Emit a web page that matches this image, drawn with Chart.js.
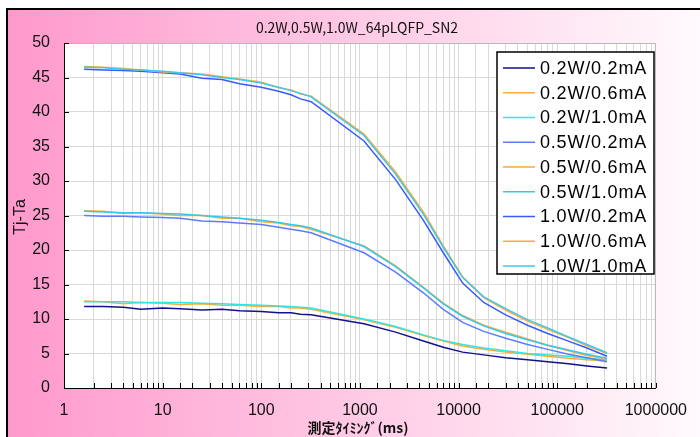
<!DOCTYPE html>
<html lang="ja">
<head>
    <meta charset="UTF-8">
    <title>0.2W,0.5W,1.0W_64pLQFP_SN2</title>
    <script src="https://cdn.jsdelivr.net/npm/chart.js"></script>
    <style>
        html, body { margin: 0; padding: 0; background: #fff; }
        #wrap { width: 700px; height: 437px; }
    </style>
</head>
<body>
    <div id="wrap"><canvas id="tjChart" width="700" height="437"></canvas></div>

    <script>
        // measurement timings (ms)
        const times = [1.6, 2.5, 4, 6, 10, 15, 25, 40, 60, 100, 150, 200, 250, 320,
            1100, 2300, 4400, 7000, 11000, 18000, 30000, 50000, 80000, 130000, 200000, 320000];

        const seriesNames = ['0.2W/0.2mA', '0.2W/0.6mA', '0.2W/1.0mA',
            '0.5W/0.2mA', '0.5W/0.6mA', '0.5W/1.0mA',
            '1.0W/0.2mA', '1.0W/0.6mA', '1.0W/1.0mA'];

        // Tj-Ta values
        const w02_02 = [11.8, 11.8, 11.7, 11.4, 11.6, 11.5, 11.3, 11.4, 11.2, 11.1, 10.9, 10.9, 10.7, 10.6,
            9.3, 8.1, 6.8, 5.9, 5.2, 4.8, 4.4, 4.1, 3.8, 3.5, 3.2, 2.9];
        const w02_06 = [12.6, 12.5, 12.2, 12.4, 12.3, 12.1, 12.2, 12.0, 12.0, 11.8, 11.8, 11.6, 11.6, 11.4,
            9.9, 8.8, 7.6, 6.8, 6.1, 5.6, 5.2, 4.9, 4.6, 4.3, 4.1, 3.9];
        const w02_10 = [12.5, 12.5, 12.5, 12.4, 12.4, 12.4, 12.3, 12.2, 12.1, 12.0, 11.9, 11.8, 11.7, 11.6,
            10.0, 8.9, 7.7, 6.9, 6.3, 5.8, 5.4, 5.0, 4.8, 4.6, 4.3, 4.1];
        const w05_02 = [25.0, 24.9, 24.9, 24.8, 24.7, 24.6, 24.2, 24.1, 23.9, 23.7, 23.3, 23.0, 22.8, 22.5,
            19.6, 16.8, 13.8, 11.4, 9.5, 8.2, 7.2, 6.3, 5.6, 4.9, 4.4, 3.8];
        const w05_06 = [25.7, 25.6, 25.3, 25.4, 25.2, 25.0, 25.0, 24.6, 24.6, 24.1, 23.9, 23.5, 23.4, 23.0,
            20.6, 17.7, 14.6, 12.3, 10.5, 9.1, 8.1, 7.1, 6.2, 5.4, 4.7, 4.2];
        const w05_10 = [25.6, 25.5, 25.4, 25.4, 25.3, 25.2, 25.0, 24.8, 24.6, 24.3, 24.0, 23.7, 23.5, 23.2,
            20.5, 17.6, 14.5, 12.2, 10.4, 9.0, 7.9, 7.0, 6.2, 5.5, 4.9, 4.3];
        const w10_02 = [46.2, 46.1, 46.0, 45.9, 45.7, 45.5, 44.9, 44.7, 44.1, 43.6, 43.0, 42.5, 41.9, 41.5,
            35.8, 30.2, 24.3, 19.6, 15.2, 12.4, 10.6, 9.1, 7.9, 6.8, 5.8, 4.6];
        const w10_06 = [46.6, 46.5, 46.3, 46.1, 45.8, 45.7, 45.5, 45.1, 44.8, 44.3, 43.5, 43.2, 42.6, 42.3,
            36.8, 31.3, 25.5, 20.6, 16.1, 13.1, 11.3, 9.7, 8.5, 7.3, 6.1, 5.0];
        const w10_10 = [46.5, 46.4, 46.2, 46.1, 45.9, 45.7, 45.4, 45.0, 44.7, 44.2, 43.6, 43.1, 42.7, 42.2,
            36.6, 31.0, 25.2, 20.4, 16.0, 13.2, 11.5, 9.9, 8.7, 7.4, 6.3, 5.1];

        const seriesValues = [w02_02, w02_06, w02_10, w05_02, w05_06, w05_10, w10_02, w10_06, w10_10];
        const seriesColors = ['#12128a', '#ffaa33', '#2ee6e6', '#5c7cff', '#ffaa33', '#35c8ee',
            '#3a5aff', '#ffaa33', '#3cc8f0'];

        const yTicks = [0, 5, 10, 15, 20, 25, 30, 35, 40, 45, 50];

        const datasets = seriesNames.map((name, i) => ({
            label: name,
            data: times.map((t, k) => ({ x: t, y: seriesValues[i][k] })),
            borderColor: seriesColors[i],
            backgroundColor: seriesColors[i],
            borderWidth: 1.5,
            pointRadius: 0,
            tension: 0,
            order: seriesNames.length - i   // later series on top, like the original
        }));

        // pink background, frame, plot border, inward ticks, texts and legend box
        const decor = {
            id: 'decor',
            beforeDraw(chart) {
                const ctx = chart.ctx;
                const a = chart.chartArea;
                ctx.save();
                ctx.fillStyle = '#fff';
                ctx.fillRect(0, 0, chart.width, chart.height);
                const g = ctx.createLinearGradient(8, 0, 700, 0);
                g.addColorStop(0, '#ff99cc');
                g.addColorStop(1, '#fffafd');
                ctx.fillStyle = g;
                ctx.fillRect(8, 10, chart.width - 8, chart.height - 10);
                ctx.strokeStyle = '#000';
                ctx.lineWidth = 2;
                ctx.beginPath();
                ctx.moveTo(7, chart.height);
                ctx.lineTo(7, 9);
                ctx.lineTo(chart.width, 9);
                ctx.stroke();
                ctx.fillStyle = '#fff';
                ctx.fillRect(a.left, a.top, a.right - a.left, a.bottom - a.top);
                ctx.restore();
            },
            afterDatasetsDraw(chart) {
                const ctx = chart.ctx;
                const a = chart.chartArea;
                const xs = chart.scales.x, ys = chart.scales.y;
                ctx.save();
                // gray top/right border
                ctx.strokeStyle = '#b8b8b8';
                ctx.lineWidth = 1;
                ctx.beginPath();
                ctx.moveTo(a.left, a.top + 0.5);
                ctx.lineTo(a.right - 0.5, a.top + 0.5);
                ctx.lineTo(a.right - 0.5, a.bottom);
                ctx.stroke();
                // inward ticks
                ctx.strokeStyle = '#000';
                ctx.beginPath();
                xs.ticks.forEach(t => {
                    const px = Math.round(xs.getPixelForValue(t.value)) + 0.5;
                    ctx.moveTo(px, a.bottom);
                    ctx.lineTo(px, a.bottom - 5);
                });
                ys.ticks.forEach(t => {
                    const py = Math.round(ys.getPixelForValue(t.value)) + 0.5;
                    ctx.moveTo(a.left, py);
                    ctx.lineTo(a.left + 5, py);
                });
                ctx.stroke();

                // title and axis titles
                ctx.fillStyle = '#111';
                ctx.textAlign = 'center';
                ctx.textBaseline = 'middle';
                ctx.font = '14px "Noto Sans CJK JP", "Liberation Sans", sans-serif';
                ctx.fillText('0.2W,0.5W,1.0W_64pLQFP_SN2', 357, 28);
                ctx.font = 'bold 14px "Noto Sans CJK JP", sans-serif';
                ctx.fillText('測定ﾀｲﾐﾝｸﾞ(ms)', 358, 428);
                ctx.save();
                ctx.translate(21, 217);
                ctx.rotate(-Math.PI / 2);
                ctx.font = '16px "Liberation Sans", sans-serif';
                ctx.fillText('Tj-Ta', 0, 0);
                ctx.restore();

                // legend box
                const bx = 497, by = 52, bw = 157, bh = 222;
                ctx.fillStyle = '#fff';
                ctx.fillRect(bx, by, bw, bh);
                ctx.strokeStyle = '#000';
                ctx.lineWidth = 1.5;
                ctx.strokeRect(bx, by, bw, bh);
                ctx.font = '18px "Liberation Sans", sans-serif';
                ctx.textAlign = 'left';
                ctx.letterSpacing = '0.8px';
                chart.data.datasets.forEach((ds, i) => {
                    const ly = 68 + i * 24.75;
                    ctx.strokeStyle = ds.borderColor;
                    ctx.lineWidth = 1.5;
                    ctx.beginPath();
                    ctx.moveTo(503, ly);
                    ctx.lineTo(535, ly);
                    ctx.stroke();
                    ctx.fillStyle = '#000';
                    ctx.fillText(ds.label, 540, ly + 1);
                });
                ctx.restore();
            }
        };

        new Chart(document.getElementById('tjChart'), {
            type: 'line',
            data: { datasets },
            options: {
                responsive: false,
                animation: false,
                layout: { padding: { left: 0, top: 43, right: 37, bottom: 0 } },
                plugins: {
                    legend: { display: false },
                    title: { display: false },
                    tooltip: { enabled: false }
                },
                scales: {
                    x: {
                        type: 'logarithmic',
                        min: 1,
                        max: 1000000,
                        afterFit: s => { s.height = 49; },
                        grid: { color: '#d9d9d9', drawTicks: false },
                        border: { color: '#000', width: 1 },
                        ticks: {
                            autoSkip: false,
                            maxRotation: 0,
                            padding: 13,
                            color: '#111',
                            font: { family: '"Liberation Sans", sans-serif', size: 16 },
                            callback: v => {
                                const l = Math.log10(v);
                                return Math.abs(l - Math.round(l)) < 1e-9 ? String(Math.round(v)) : '';
                            }
                        }
                    },
                    y: {
                        min: 0,
                        max: 50,
                        afterFit: s => { s.width = 64; },
                        afterBuildTicks: s => { s.ticks = yTicks.map(v => ({ value: v })); },
                        grid: { color: '#d9d9d9', drawTicks: false },
                        border: { color: '#000', width: 1 },
                        ticks: {
                            padding: 14,
                            color: '#111',
                            font: { family: '"Liberation Sans", sans-serif', size: 16 }
                        }
                    }
                }
            },
            plugins: [decor]
        });
    </script>
</body>
</html>
